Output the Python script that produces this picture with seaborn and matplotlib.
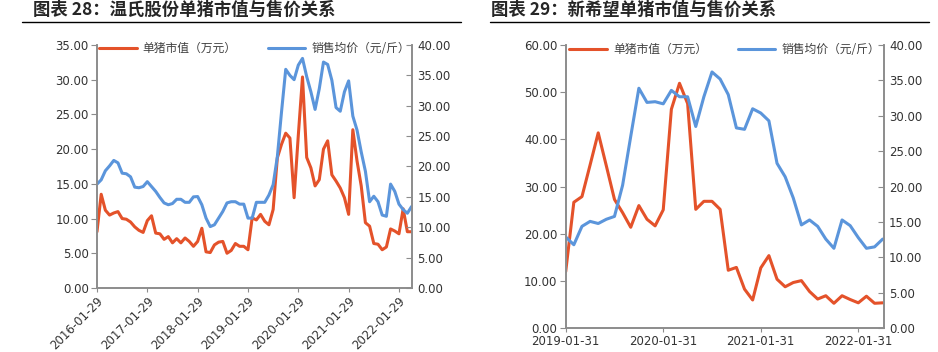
import numpy as np
import pandas as pd
import matplotlib
matplotlib.use('Agg')
import matplotlib.pyplot as plt
import seaborn as sns

# ---- data: 温氏股份 (monthly, 2016-01 .. 2022-04)
wens_value = [8.1, 13.5, 11.2, 10.5, 10.8, 11.0, 10.0, 9.9, 9.5, 8.8, 8.3, 8.0, 9.7, 10.4, 7.9, 7.8, 7.0, 7.4,
              6.5, 7.1, 6.5, 7.2, 6.7, 6.0, 6.7, 8.6, 5.2,
              5.1, 6.2, 6.6, 6.7, 5.0, 5.4, 6.4, 6.0, 6.0, 5.5,
              10.1, 9.8, 10.6, 9.6, 9.1, 11.3, 18.75, 20.7, 22.3, 21.6, 13.0,
              22.0, 30.4,
              18.8, 17.3, 14.7, 15.6, 20.0, 21.2, 16.3, 15.4, 14.4, 13.0, 10.6, 22.8, 18.3, 14.7, 9.4, 8.9,
              6.4, 6.3, 5.5, 5.9, 8.5, 8.2, 7.8, 11.4, 8.1, 8.1]
wens_price = [17.1, 17.8, 19.3, 20.1, 21.0, 20.6, 18.9, 18.8, 18.3, 16.6, 16.5, 16.7, 17.5, 16.7, 15.9, 14.9,
              14.0, 13.7, 13.9, 14.6, 14.6, 14.1, 14.1, 15.0,
              15.05, 13.7, 11.5, 10.1, 10.4, 11.5, 12.6, 14.0, 14.2, 14.2, 13.8, 13.8, 11.5, 11.5, 14.1,
              14.1, 14.1, 15.3, 17.0, 21.6, 29.0, 36.0, 35.0, 34.3, 36.7, 37.8, 34.8, 32.3, 29.4, 32.8,
              37.2, 36.8, 34.2, 29.7, 29.1, 32.3, 34.1, 28.3, 26.0, 22.4, 19.2, 14.2, 15.1, 14.2, 12.0,
              11.8, 17.1, 15.9, 13.8, 12.9, 12.3, 13.4]
wens_ticks = ['2016-01-29', '2017-01-29', '2018-01-29', '2019-01-29', '2020-01-29', '2021-01-29', '2022-01-29']

# ---- data: 新希望 (monthly, 2019-01 .. 2022-04)
nhope_value = [12.0, 26.7, 27.9, 34.6, 41.4, 34.4, 27.3, 24.5, 21.4, 26.0, 23.1, 21.7, 25.1, 46.4, 51.9, 47.6,
               25.2, 26.9, 26.9, 25.2, 12.3, 12.9, 8.3, 6.0, 12.8, 15.4, 10.4, 8.8, 9.7, 10.1, 7.8, 6.2,
               6.9, 5.3, 6.9, 6.1, 5.4, 6.8, 5.3, 5.4]
nhope_price = [12.9, 11.8, 14.4, 15.1, 14.8, 15.4, 15.8, 20.2, 27.1, 33.9, 31.9, 32.0, 31.7, 33.6, 32.7, 32.7,
               28.5, 32.7, 36.2, 35.2, 33.0, 28.3, 28.1, 31.0, 30.4, 29.3, 23.3, 21.4, 18.4, 14.6, 15.3, 14.4,
               12.6, 11.3, 15.3, 14.5, 12.8, 11.3, 11.5, 12.6]
nhope_ticks = ['2019-01-31', '2020-01-31', '2021-01-31', '2022-01-31']

ORANGE = '#E4522A'
BLUE = '#5B95DB'
GRAY = '#8C8C8C'
TXT = '#333333'
NUM = ['DejaVu Sans']

sns.set_style('white')
plt.rcParams['font.family'] = ['Noto Sans CJK SC', 'DejaVu Sans']

fig = plt.figure(figsize=(9.38, 3.52), dpi=100)


def draw(pos, value, price, ticks, lmax, lstep, rot):
    ax = fig.add_axes(pos)
    df = pd.DataFrame({'i': np.arange(len(value)), 'v': value, 'p': price})
    sns.lineplot(data=df, x='i', y='v', ax=ax, color=ORANGE, lw=2.2, label='单猪市值（万元）', legend=False)
    ax2 = ax.twinx()
    sns.lineplot(data=df, x='i', y='p', ax=ax2, color=BLUE, lw=2.2, label='销售均价（元/斤）', legend=False)

    ax.set_xlim(0, len(value) - 0.9)
    ax.set_ylim(0, lmax)
    ax2.set_ylim(0, 40)
    ax.set_yticks(np.arange(0, lmax + 0.1, lstep))
    ax2.set_yticks(np.arange(0, 40.1, 5))
    ax.set_yticklabels([f'{t:.2f}' for t in ax.get_yticks()], family=NUM, color=TXT)
    ax2.set_yticklabels([f'{t:.2f}' for t in ax2.get_yticks()], family=NUM, color=TXT)
    ax.set_xticks(np.arange(len(ticks)) * 12)
    if rot:
        ax.set_xticklabels(ticks, rotation=45, ha='right', rotation_mode='anchor', family=NUM, color=TXT)
    else:
        ax.set_xticklabels(ticks, family=NUM, color=TXT)
    ax.set_xlabel('')
    ax.set_ylabel('')
    ax2.set_ylabel('')

    for a in (ax, ax2):
        a.spines['top'].set_visible(False)
        for s in ('left', 'right', 'bottom'):
            a.spines[s].set_color(GRAY)
            a.spines[s].set_linewidth(1.2)
    ax.tick_params(axis='y', direction='out', length=4, color=GRAY, labelsize=8.5, left=True, pad=2)
    ax.tick_params(axis='x', direction='out', length=3, color=GRAY, labelsize=8.5, bottom=True, pad=2)
    ax2.tick_params(axis='y', direction='in', length=4, color=GRAY, labelsize=8.5, right=True, pad=4)

    h1, l1 = ax.get_legend_handles_labels()
    h2, l2 = ax2.get_legend_handles_labels()
    ax2.legend(h1 + h2, l1 + l2, loc='center', bbox_to_anchor=(0.5, 0.985), ncol=2, frameon=False,
               fontsize=8.5, handlelength=3.2, columnspacing=2.6, handletextpad=0.5, labelcolor='#404040')
    return ax


draw([0.1034, 0.182, 0.3358, 0.690], wens_value, wens_price, wens_ticks, 35, 5, True)
draw([0.6031, 0.0673, 0.3388, 0.8047], nhope_value, nhope_price, nhope_ticks, 60, 10, False)

fig.text(0.035, 0.972, '图表 28：温氏股份单猪市值与售价关系', fontsize=12.5, fontweight='bold', va='center')
fig.text(0.523, 0.972, '图表 29：新希望单猪市值与售价关系', fontsize=12.5, fontweight='bold', va='center')
fig.add_artist(plt.Line2D([0.023, 0.491], [0.938, 0.938], color='black', lw=1))
fig.add_artist(plt.Line2D([0.522, 0.99], [0.938, 0.938], color='black', lw=1))

fig.savefig('out.png', dpi=100)
